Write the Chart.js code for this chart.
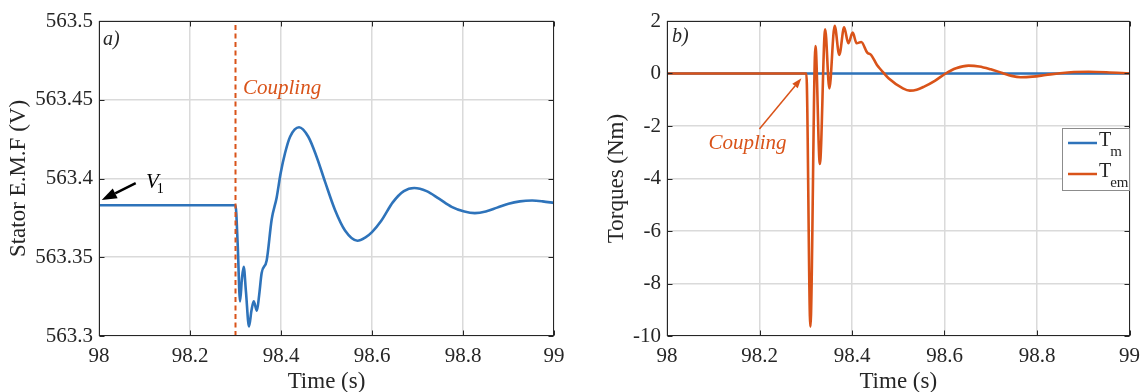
<!DOCTYPE html>
<html>
<head>
<meta charset="utf-8">
<script src="https://cdn.jsdelivr.net/npm/chart.js"></script>
<style>
  body { margin: 0; background: #fff; }
  #wrap { position: relative; width: 1148px; height: 392px; background: #fff; }
  #emf { position: absolute; left: 0; top: 0; }
  #torque { position: absolute; left: 590px; top: 0; }
</style>
</head>
<body>
<div id="wrap">
  <canvas id="emf" width="574" height="392"></canvas>
  <canvas id="torque" width="558" height="392"></canvas>
</div>
<script>
const SERIF = "'Liberation Serif', 'Times New Roman', serif";
const BLUE = "#2E73BA";
const ORANGE = "#D95319";
const INK = "#262626";
const GRID = "#dadada";

// axis ticks
const timeTicks = [98, 98.2, 98.4, 98.6, 98.8, 99];
const timeLabels = ["98", "98.2", "98.4", "98.6", "98.8", "99"];
const emfTicks = [563.3, 563.35, 563.4, 563.45, 563.5];
const emfLabels = ["563.3", "563.35", "563.4", "563.45", "563.5"];
const torqueTicks = [-10, -8, -6, -4, -2, 0, 2];
const torqueLabels = ["-10", "-8", "-6", "-4", "-2", "0", "2"];

// a) stator EMF (read off the picture)
const emfTime = [98, 98.300, 98.3047, 98.310, 98.314, 98.318, 98.323, 98.3297, 98.335, 98.340,
  98.347, 98.352, 98.3575, 98.3685, 98.3795, 98.3905, 98.399, 98.4088, 98.42, 98.4396,
  98.46, 98.478, 98.4967, 98.5187, 98.5407, 98.568, 98.585, 98.60, 98.62, 98.646,
  98.67, 98.693, 98.72, 98.748, 98.775, 98.803, 98.826, 98.85, 98.875, 98.90,
  98.925, 98.952, 98.975, 99];
const emfValue = [563.383, 563.383, 563.359, 563.322, 563.336, 563.344, 563.328, 563.306, 563.316, 563.322,
  563.316, 563.326, 563.340, 563.348, 563.374, 563.388, 563.403, 563.416, 563.4265, 563.4325,
  563.4265, 563.414, 563.398, 563.380, 563.367, 563.3605, 563.3625, 563.366, 563.373, 563.385,
  563.392, 563.394, 563.392, 563.387, 563.382, 563.379, 563.378, 563.379, 563.3815, 563.384,
  563.3855, 563.386, 563.3855, 563.3845];
const couplingTime = 98.3;

// b) torques
const tmTime = [98, 99];
const tmValue = [0, 0];
const temTime = [98, 98.3013, 98.31, 98.321, 98.3305, 98.342, 98.351, 98.3625, 98.3725, 98.383,
  98.392, 98.4015, 98.41, 98.42, 98.433, 98.4414, 98.454, 98.463, 98.479, 98.51,
  98.525, 98.54, 98.556, 98.58, 98.6025, 98.625, 98.652, 98.675, 98.70, 98.725,
  98.745, 98.7646, 98.79, 98.819, 98.85, 98.88, 98.9115, 98.95, 99];
const temValue = [0, 0, -9.645, 1.048, -3.448, 1.68, -0.565, 1.82, 0.705, 1.76,
  1.15, 1.556, 1.15, 1.2, 0.794, 0.705, 0.324, 0.133, -0.183, -0.565,
  -0.654, -0.62, -0.5, -0.27, 0, 0.2, 0.30, 0.27, 0.16, 0.02,
  -0.09, -0.14, -0.12, -0.057, 0.01, 0.055, 0.069, 0.05, 0];

const pts = (xs, ys) => xs.map((x, i) => ({ x: x, y: ys[i] }));

function xScale() {
  return {
    type: "linear", min: 98, max: 99,
    afterBuildTicks: s => { s.ticks = timeTicks.map(v => ({ value: v })); },
    afterFit: s => { s.height = 56; },
    grid: { color: GRID, lineWidth: 1.5, drawTicks: false },
    border: { display: false },
    ticks: { autoSkip: false, maxRotation: 0, padding: 8, color: INK,
      font: { family: SERIF, size: 21 }, callback: (v, i) => timeLabels[i] },
    title: { display: true, text: "Time (s)", color: INK,
      font: { family: SERIF, size: 23 }, padding: { top: 0, bottom: -4 } }
  };
}

function yScale(min, max, ticks, labels, title, width, titlePad) {
  return {
    type: "linear", min: min, max: max,
    afterBuildTicks: s => { s.ticks = ticks.map(v => ({ value: v })); },
    afterFit: s => { s.width = width; },
    grid: { color: GRID, lineWidth: 1.5, drawTicks: false },
    border: { display: false },
    ticks: { autoSkip: false, padding: 6, color: INK,
      font: { family: SERIF, size: 21 }, callback: (v, i) => labels[i] },
    title: { display: true, text: title, color: INK,
      font: { family: SERIF, size: 23 }, padding: { top: titlePad, bottom: 0 } }
  };
}

// box and inward tick marks, MATLAB style
const framePlugin = {
  id: "frame",
  afterDatasetsDraw(chart) {
    const { ctx, chartArea: a, scales: { x, y } } = chart;
    const L = Math.round(a.left) + 0.5, R = Math.round(a.right) - 0.5;
    const T = Math.round(a.top) + 0.5, B = Math.round(a.bottom) - 0.5;
    ctx.save();
    ctx.strokeStyle = INK;
    ctx.lineWidth = 1;
    ctx.beginPath();
    x.ticks.forEach(t => {
      const px = Math.round(x.getPixelForValue(t.value)) + 0.5;
      ctx.moveTo(px, B); ctx.lineTo(px, B - 5);
      ctx.moveTo(px, T); ctx.lineTo(px, T + 5);
    });
    y.ticks.forEach(t => {
      const py = Math.round(y.getPixelForValue(t.value)) + 0.5;
      ctx.moveTo(L, py); ctx.lineTo(L + 5, py);
      ctx.moveTo(R, py); ctx.lineTo(R - 5, py);
    });
    ctx.stroke();
    ctx.strokeRect(L, T, R - L, B - T);
    ctx.restore();
  }
};

function arrow(ctx, x1, y1, x2, y2, color, width, headLen, headW) {
  const ang = Math.atan2(y2 - y1, x2 - x1);
  const bx = x2 - headLen * Math.cos(ang), by = y2 - headLen * Math.sin(ang);
  ctx.save();
  ctx.strokeStyle = color; ctx.fillStyle = color; ctx.lineWidth = width;
  ctx.beginPath(); ctx.moveTo(x1, y1); ctx.lineTo(bx, by); ctx.stroke();
  ctx.beginPath();
  ctx.moveTo(x2, y2);
  ctx.lineTo(bx + headW / 2 * Math.sin(ang), by - headW / 2 * Math.cos(ang));
  ctx.lineTo(bx - headW / 2 * Math.sin(ang), by + headW / 2 * Math.cos(ang));
  ctx.closePath(); ctx.fill();
  ctx.restore();
}

const emfNotes = {
  id: "emfNotes",
  afterDraw(chart) {
    const { ctx, scales: { x, y } } = chart;
    ctx.save();
    ctx.fillStyle = INK;
    ctx.font = "italic 20px " + SERIF;
    ctx.textBaseline = "middle";
    ctx.fillText("a)", x.getPixelForValue(98.009), y.getPixelForValue(563.488));
    arrow(ctx, x.getPixelForValue(98.0807), y.getPixelForValue(563.397),
      x.getPixelForValue(98.006), y.getPixelForValue(563.3863), "#000", 2.5, 15, 11);
    ctx.textBaseline = "alphabetic";
    ctx.fillStyle = "#000";
    const vx = x.getPixelForValue(98.1033), vy = y.getPixelForValue(563.394);
    ctx.font = "italic 21px " + SERIF;
    ctx.fillText("V", vx, vy);
    const vw = ctx.measureText("V").width;
    ctx.font = "14px " + SERIF;
    ctx.fillText("1", vx + vw - 2, vy + 5);
    ctx.fillStyle = ORANGE;
    ctx.font = "italic 21px " + SERIF;
    ctx.fillText("Coupling", x.getPixelForValue(98.3165), y.getPixelForValue(563.4537));
    ctx.restore();
  }
};

const torqueNotes = {
  id: "torqueNotes",
  afterDraw(chart) {
    const { ctx, chartArea: a, scales: { x, y } } = chart;
    ctx.save();
    ctx.fillStyle = INK;
    ctx.font = "italic 20px " + SERIF;
    ctx.textBaseline = "middle";
    ctx.fillText("b)", x.getPixelForValue(98.011), y.getPixelForValue(1.39));
    arrow(ctx, x.getPixelForValue(98.1998), y.getPixelForValue(-2.114),
      x.getPixelForValue(98.2906), y.getPixelForValue(-0.183), ORANGE, 1.5, 10, 7);
    ctx.textBaseline = "alphabetic";
    ctx.fillStyle = ORANGE;
    ctx.font = "italic 21px " + SERIF;
    ctx.fillText("Coupling", x.getPixelForValue(98.0896), y.getPixelForValue(-2.876));

    // legend
    const w = 68, h = 63;
    const x0 = Math.round(a.right) - w, y0 = Math.round(a.top) + 107;
    ctx.fillStyle = "#fff";
    ctx.fillRect(x0, y0, w, h);
    ctx.strokeStyle = "#8c8c8c";
    ctx.lineWidth = 1;
    ctx.strokeRect(x0 + 0.5, y0 + 0.5, w - 1, h - 1);
    const entries = [
      { color: BLUE, sub: "m", dy: 15 },
      { color: ORANGE, sub: "em", dy: 46 }
    ];
    entries.forEach(e => {
      const ly = y0 + e.dy;
      ctx.strokeStyle = e.color;
      ctx.lineWidth = 2.5;
      ctx.beginPath(); ctx.moveTo(x0 + 6, ly); ctx.lineTo(x0 + 35, ly); ctx.stroke();
      ctx.fillStyle = INK;
      ctx.font = "20px " + SERIF;
      ctx.fillText("T", x0 + 37, ly + 3);
      const tw = ctx.measureText("T").width;
      ctx.font = "15px " + SERIF;
      ctx.fillText(e.sub, x0 + 37 + tw - 1, ly + 13);
    });
    ctx.restore();
  }
};

new Chart(document.getElementById("emf"), {
  type: "line",
  data: {
    datasets: [
      { data: pts([couplingTime, couplingTime], [563.3, 563.5]), borderColor: ORANGE,
        borderWidth: 2, borderDash: [5, 3.5], pointRadius: 0, order: 0 },
      { data: pts(emfTime, emfValue), borderColor: BLUE, borderWidth: 2.6,
        pointRadius: 0, cubicInterpolationMode: "monotone", order: 1 }
    ]
  },
  options: {
    responsive: false, animation: false, parsing: false,
    layout: { padding: { left: 0, right: 20, top: 21, bottom: 0 } },
    plugins: { legend: { display: false }, tooltip: { enabled: false } },
    scales: {
      x: xScale(),
      y: yScale(563.3, 563.5, emfTicks, emfLabels, "Stator E.M.F (V)", 99, 5.5)
    }
  },
  plugins: [framePlugin, emfNotes]
});

new Chart(document.getElementById("torque"), {
  type: "line",
  data: {
    datasets: [
      { label: "Tem", data: pts(temTime, temValue), borderColor: ORANGE, borderWidth: 2.6,
        pointRadius: 0, cubicInterpolationMode: "monotone", order: 0 },
      { label: "Tm", data: pts(tmTime, tmValue), borderColor: BLUE, borderWidth: 2.6,
        pointRadius: 0, order: 1 }
    ]
  },
  options: {
    responsive: false, animation: false, parsing: false,
    layout: { padding: { left: 0, right: 12, top: 21, bottom: 0 } },
    plugins: { legend: { display: false }, tooltip: { enabled: false } },
    scales: {
      x: xScale(),
      y: yScale(-10, 2, torqueTicks, torqueLabels, "Torques (Nm)", 77, 13)
    }
  },
  plugins: [framePlugin, torqueNotes]
});
</script>
</body>
</html>
